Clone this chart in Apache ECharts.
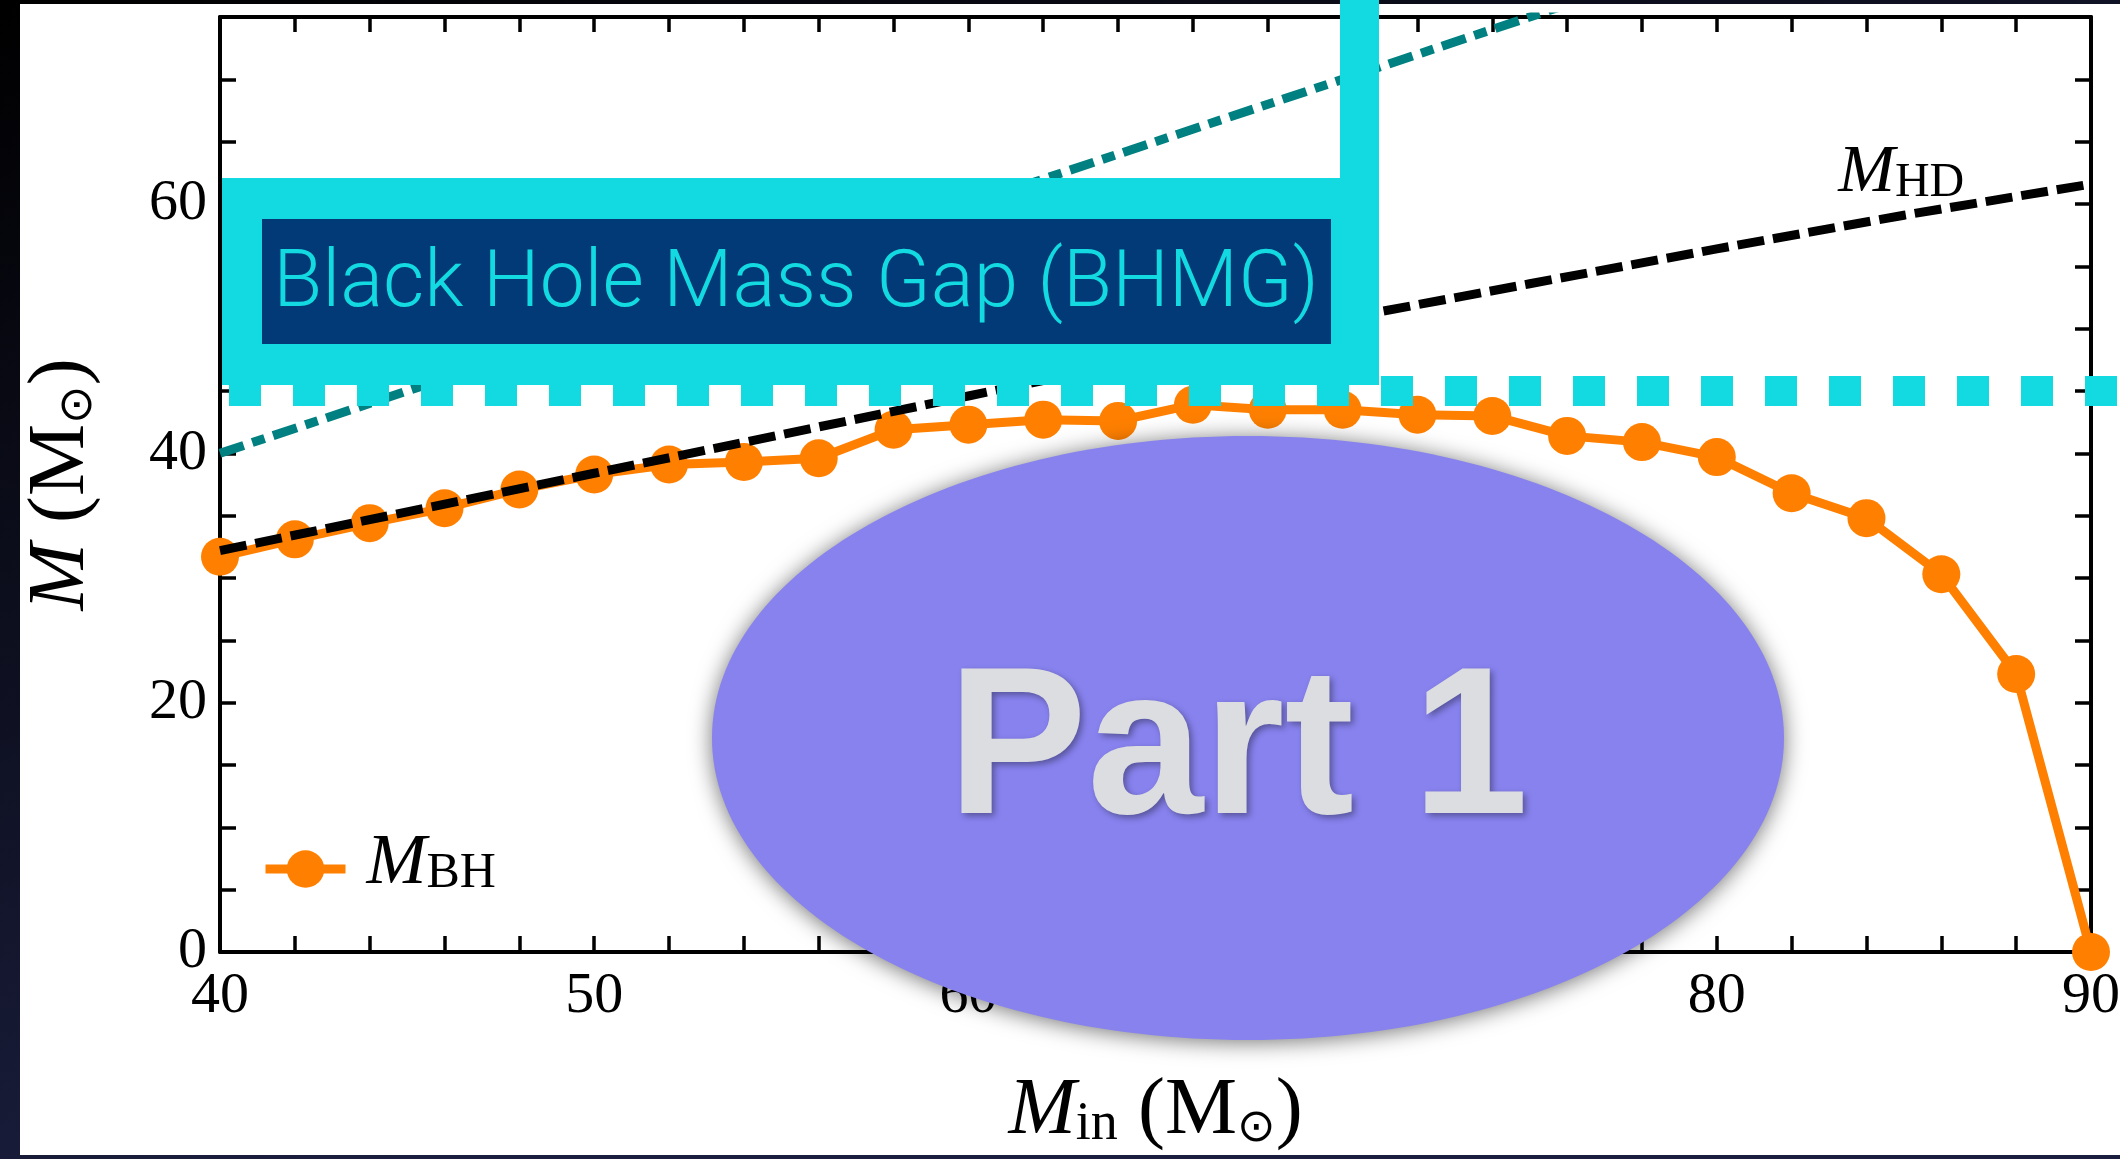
<!DOCTYPE html>
<html>
<head>
<meta charset="utf-8">
<script src="https://cdn.jsdelivr.net/npm/echarts@6/dist/echarts.min.js"></script>
<style>
html,body{margin:0;padding:0;background:#000;overflow:hidden;}
#c{width:2120px;height:1159px;}
</style>
</head>
<body>
<div id="c"></div>
<script>
// ---- data ----
const mIn = [40,42,44,46,48,50,52,54,56,58,60,62,64,66,68,70,72,74,76,78,80,82,84,86,88,90];
const mBH = [31.7,33.1,34.4,35.6,37.1,38.3,39.1,39.3,39.6,41.9,42.3,42.7,42.6,43.9,43.5,43.5,43.1,43.0,41.4,40.9,39.7,36.8,34.8,30.3,22.3,0];
const hdX = [40,45,50,55,60,65,70,75,80,85,90];
const mHD = [32.2,35.3,38.4,41.5,44.6,47.7,50.8,53.6,56.4,59.1,61.6];
const eqX = [40,90];
const eqY = [40,90];
const gapLower = 45;
const xLabels = [40,50,60,70,80,90];
const yLabels = [0,20,40,60];
const gapText = 'Black Hole Mass Gap (BHMG)';
const partText = 'Part 1';

const serif = '"Liberation Serif","DejaVu Serif",serif';
const black = '#000';
const orange = '#ff8000';
const cyan = '#12dae0';

const chart = echarts.init(document.getElementById('c'), null, {renderer:'canvas', width:2120, height:1159});

const axisLine = {show:true, onZero:false, lineStyle:{color:black, width:4}};
const tick = (len) => ({show:true, inside:true, length:len, lineStyle:{color:black, width:3.5}});

const nameRich = {
  i:{fontFamily:serif, fontStyle:'italic', fontSize:81, lineHeight:80, color:black},
  p:{fontFamily:serif, fontSize:81, lineHeight:80, color:black},
  s:{fontFamily:serif, fontSize:54, lineHeight:42, verticalAlign:'bottom', color:black},
  o:{fontFamily:'"DejaVu Sans",sans-serif', fontSize:46, lineHeight:28, verticalAlign:'bottom', color:black}
};

const option = {
  animation:false,
  backgroundColor:{type:'linear', x:0, y:0, x2:0.2, y2:1, colorStops:[{offset:0,color:'#000000'},{offset:1,color:'#1b1f3f'}]},
  grid:{left:220, right:29, top:17, bottom:207, containLabel:false, outerBoundsMode:'none'},
  legend:{
    show:true, data:['M_BH'], left:261, top:828, padding:0, itemWidth:80, itemHeight:47, itemGap:0,
    selectedMode:false,
    lineStyle:{width:9},
    formatter:() => '{i|M}{s|BH}',
    textStyle:{padding:[0,0,10,0], rich:{
      i:{fontFamily:serif, fontStyle:'italic', fontSize:72, lineHeight:70, color:black, padding:[0,0,0,16]},
      s:{fontFamily:serif, fontSize:50, lineHeight:34, verticalAlign:'bottom', color:black}
    }}
  },
  xAxis:[{
    type:'value', min:40, max:90, interval:2, position:'bottom',
    axisLine, axisTick:tick(16),
    axisLabel:{show:true, formatter:v => xLabels.includes(v) ? String(v) : '', fontFamily:serif, fontSize:58, color:black, margin:16},
    splitLine:{show:false},
    name:'{i|M}{s|in}{p| (M}{o|⊙}{p|)}', nameLocation:'middle', nameGap:120, nameMoveOverlap:false,
    nameTextStyle:{rich:nameRich}
  },{
    type:'value', min:40, max:90, interval:2, position:'top',
    axisLine, axisTick:tick(15), axisLabel:{show:false}, splitLine:{show:false}
  }],
  yAxis:[{
    type:'value', min:0, max:75, interval:5, position:'left',
    axisLine, axisTick:tick(16),
    axisLabel:{show:true, formatter:v => yLabels.includes(v) ? String(v) : '', fontFamily:serif, fontSize:58, color:black, margin:13},
    splitLine:{show:false},
    name:'{i|M}{p| (M}{o|⊙}{p|)}', nameLocation:'middle', nameGap:118, nameRotate:90, nameMoveOverlap:false,
    nameTextStyle:{rich:nameRich}
  },{
    type:'value', min:0, max:75, interval:5, position:'right',
    axisLine, axisTick:tick(16), axisLabel:{show:false}, splitLine:{show:false}
  }],
  series:[{
    type:'line', name:'M_BH', xAxisIndex:0, yAxisIndex:0,
    data:mIn.map((x,i)=>[x, mBH[i]]),
    symbol:'circle', symbolSize:38, showSymbol:true,
    itemStyle:{color:orange}, lineStyle:{color:orange, width:9},
    emphasis:{disabled:true}, z:2
  },{
    type:'line', name:'M_HD', xAxisIndex:0, yAxisIndex:0,
    data:hdX.map((x,i)=>[x, mHD[i]]),
    symbol:'none', lineStyle:{color:black, width:9, type:[27,9]},
    emphasis:{disabled:true}, z:3
  },{
    type:'line', name:'M = M_in', xAxisIndex:0, yAxisIndex:0,
    data:eqX.map((x,i)=>[x, eqY[i]]),
    symbol:'none', lineStyle:{color:'#008080', width:9, type:[25,9,13,9]},
    emphasis:{disabled:true}, z:3
  }]
};
chart.setOption(option);

const y45 = chart.convertToPixel({xAxisIndex:0, yAxisIndex:0}, [40, gapLower])[1];
const hdPt = chart.convertToPixel({xAxisIndex:0, yAxisIndex:0}, [83.3, 60.9]);

chart.setOption({
  graphic:[
    {type:'rect', z:-100, silent:true, shape:{x:20, y:4, width:2100, height:1151}, style:{fill:'#ffffff'}},
    {type:'line', z:50, silent:true, shape:{x1:229, y1:y45, x2:2120, y2:y45}, style:{stroke:cyan, lineWidth:30, lineDash:[32,32]}},
    {type:'rect', z:60, silent:true, shape:{x:222, y:178, width:1157, height:207}, style:{fill:cyan}},
    {type:'rect', z:60, silent:true, shape:{x:1340, y:0, width:39, height:180}, style:{fill:cyan}},
    {type:'rect', z:61, silent:true, shape:{x:262, y:219, width:1069, height:125}, style:{fill:'#023a78'}},
    {type:'text', z:62, silent:true, style:{text:gapText, x:796, y:286, fill:cyan, align:'center', verticalAlign:'middle', textAlign:'center', textVerticalAlign:'middle', fontFamily:'Roboto', fontWeight:300, fontSize:80}},
    {type:'ellipse', z:70, silent:true, shape:{cx:1248, cy:738, rx:536, ry:302}, style:{fill:'#8782ee', shadowBlur:22, shadowColor:'rgba(0,0,0,0.55)', shadowOffsetX:0, shadowOffsetY:2}},
    {type:'text', z:71, silent:true, style:{text:partText, x:1238, y:755, fill:'#dcdde0', align:'center', verticalAlign:'middle', textAlign:'center', textVerticalAlign:'middle', fontFamily:'"Liberation Sans",Arial,sans-serif', fontWeight:'bold', fontSize:209, textShadowColor:'rgba(0,0,0,0.35)', textShadowBlur:6, textShadowOffsetX:3, textShadowOffsetY:3}},
    {type:'text', z:40, silent:true, style:{text:'{i|M}{s|HD}', x:hdPt[0]-2, y:139, align:'left', verticalAlign:'top', rich:{
      i:{fontFamily:serif, fontStyle:'italic', fontSize:68, lineHeight:68, fill:black, color:black},
      s:{fontFamily:serif, fontSize:48, lineHeight:50, verticalAlign:'bottom', fill:black, color:black}
    }}}
  ]
});
</script>
</body>
</html>
